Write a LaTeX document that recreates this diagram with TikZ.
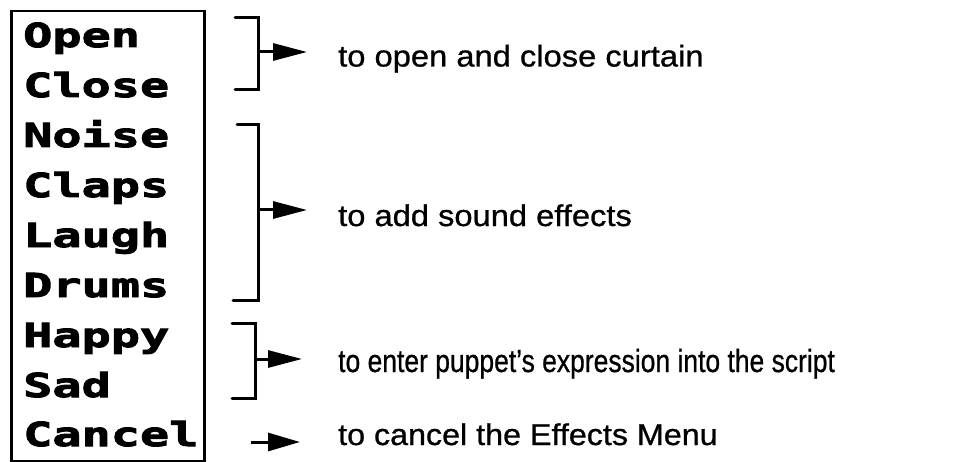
\documentclass[tikz,border=0pt]{standalone}
\usepackage{fontspec}
\usetikzlibrary{arrows.meta}
\setmainfont[FakeBold=0.8]{Liberation Sans}
\newfontfamily\pixfont[FakeStretch=1.47,FakeBold=3]{DejaVu Sans Mono Bold}
\begin{document}
\begin{tikzpicture}[x=1pt,y=-1pt,
  item/.style={anchor=base west,inner sep=0pt,font=\pixfont\fontsize{33}{33}\selectfont},
  note/.style={anchor=base west,inner sep=0pt,font=\fontsize{30}{30}\selectfont},
  brk/.style={line width=3pt,line cap=round,line join=miter},
  arr/.style={line width=3pt,-{Triangle[length=34pt,width=17pt]}},
  menubox/.style={draw,line width=2.5pt,anchor=north west,minimum width=193pt,minimum height=450pt,inner sep=0pt}]
\useasboundingbox (0,0) rectangle (965,462);
\node[menubox] (menu) at (10,10) {};
\node[item] (i1) at (23,47) {Open};
\node[item] (i2) at (23,97) {Close};
\node[item] (i3) at (23,147) {Noise};
\node[item] (i4) at (23,197) {Claps};
\node[item] (i5) at (23,247) {Laugh};
\node[item] (i6) at (23,297) {Drums};
\node[item] (i7) at (23,347) {Happy};
\node[item] (i8) at (23,397) {Sad};
\node[item] (i9) at (23,446) {Cancel};
% notes
\node[note] (t1) at (338,66.5) {\scalebox{1.09}[1]{to open and close curtain}};
\node[note] (t2) at (338,226) {\scalebox{1.089}[1]{to add sound effects}};
\node[note,font=\fontsize{32}{32}\selectfont] (t3) at (338,372) {\scalebox{0.827}[1]{to enter puppet’s expression into the script}};
\node[note] (t4) at (338,445) {\scalebox{1.075}[1]{to cancel the Effects Menu}};
% brackets
\draw[brk] (235,18) -- (258,18) -- (258,90) -- (235,90);
\draw[brk] (237,125) -- (258,125) -- (258,300.5) -- (233,300.5);
\draw[brk] (232,323) -- (255,323) -- (255,398) -- (232,398);
\coordinate (b1) at (258,52);
\coordinate (b2) at (258,210);
\coordinate (b3) at (255,359);
\coordinate (b4) at (251,442);
\draw[arr] (b1) -- ([xshift=-31pt]b1 -| t1.west);
\draw[arr] (b2) -- ([xshift=-31pt]b2 -| t2.west);
\draw[arr] (b3) -- ([xshift=-36pt]b3 -| t3.west);
\draw[line width=3pt,-{Triangle[length=32pt,width=18pt]}] (b4) -- ([xshift=-38pt]b4 -| t4.west);
\end{tikzpicture}
\end{document}
